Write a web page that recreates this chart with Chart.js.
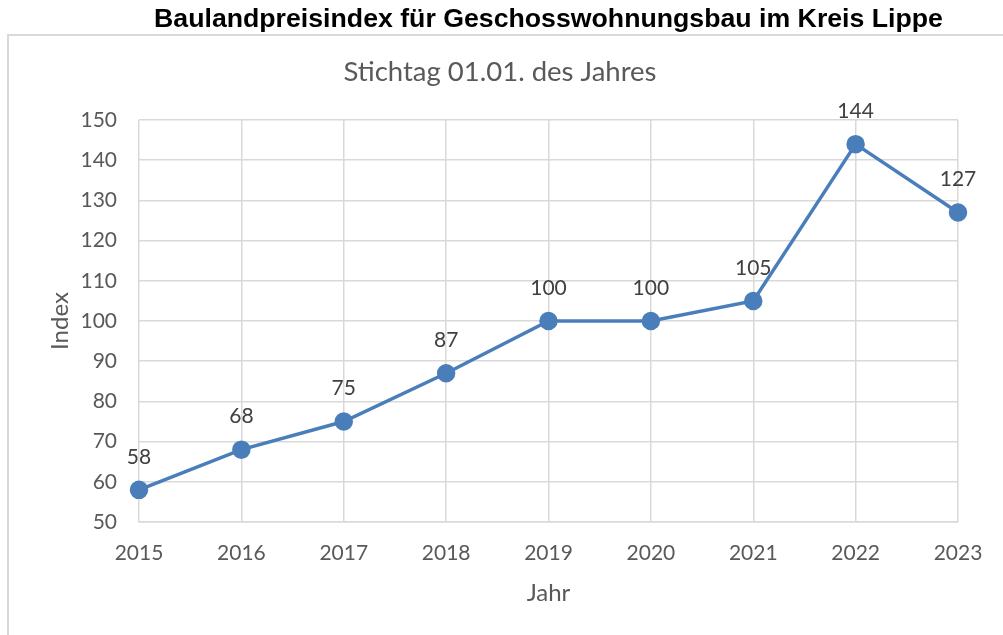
<!DOCTYPE html>
<html>
<head>
<meta charset="utf-8">
<script src="https://cdn.jsdelivr.net/npm/chart.js@4/dist/chart.umd.min.js"></script>
<style>
  html, body { margin: 0; padding: 0; background: #fff; overflow: hidden; }
  #frame { position: absolute; left: 7px; top: 34px; width: 1100px; height: 700px; border: 2px solid #d9d9d9; }
  #wrap { position: absolute; left: 0; top: 0; width: 1003px; height: 635px; }
</style>
</head>
<body>
<div id="frame"></div>
<div id="wrap"><canvas id="chart"></canvas></div>
<script>
'use strict';

const years = ['2015', '2016', '2017', '2018', '2019', '2020', '2021', '2022', '2023'];
const indexValues = [58, 68, 75, 87, 100, 100, 105, 144, 127];
const yTicks = { min: 50, max: 150, step: 10 };

const FONT = 'Lato, "Open Sans", sans-serif';
const GREY = '#595959';

// Datenbeschriftung über den Punkten
const pointLabels = {
  id: 'pointLabels',
  afterDatasetsDraw(chart) {
    const ctx = chart.ctx;
    const meta = chart.getDatasetMeta(0);
    ctx.save();
    ctx.font = '21px ' + FONT;
    ctx.fillStyle = '#404040';
    ctx.textAlign = 'center';
    ctx.textBaseline = 'middle';
    meta.data.forEach(function(pt, i) {
      ctx.fillText(String(indexValues[i]), pt.x, pt.y - 33);
    });
    ctx.restore();
  }
};

new Chart(document.getElementById('chart'), {
  type: 'line',
  data: {
    labels: years,
    datasets: [{
      label: 'Index',
      data: indexValues,
      borderColor: '#4a7ebb',
      backgroundColor: '#4a7ebb',
      borderWidth: 3.5,
      pointRadius: 7.5,
      pointHoverRadius: 7.5,
      tension: 0
    }]
  },
  options: {
    responsive: true,
    maintainAspectRatio: false,
    animation: false,
    layout: { padding: { left: 42, right: 45, top: 0, bottom: 23 } },
    plugins: {
      legend: { display: false },
      tooltip: { enabled: false },
      title: {
        display: true,
        fullSize: false,
        text: 'Baulandpreisindex für Geschosswohnungsbau im Kreis Lippe',
        color: '#000',
        font: { family: '"Liberation Sans", Arial, sans-serif', size: 26.7, weight: 'bold' },
        padding: { top: 4, bottom: 10 }
      },
      subtitle: {
        display: true,
        text: 'Stichtag 01.01. des Jahres',
        color: GREY,
        font: { family: FONT, size: 27.5 },
        padding: { top: 10, bottom: 31 }
      }
    },
    scales: {
      x: {
        offset: false,
        grid: { color: '#d9d9d9', lineWidth: 1.5, drawTicks: false },
        border: { color: '#d9d9d9', width: 1.5 },
        ticks: { color: GREY, font: { family: FONT, size: 21 }, padding: 19, maxRotation: 0 },
        title: { display: true, text: 'Jahr', color: GREY, font: { family: FONT, size: 24 }, padding: { top: 14 } },
        afterFit: function(s) { s.height = 90; }
      },
      y: {
        min: yTicks.min,
        max: yTicks.max,
        grid: { color: '#d9d9d9', lineWidth: 1.5, drawTicks: false },
        border: { display: false },
        ticks: { stepSize: yTicks.step, color: GREY, font: { family: FONT, size: 21 }, padding: 22 },
        title: { display: true, text: 'Index', color: GREY, font: { family: FONT, size: 24 }, padding: { bottom: 14 } },
        afterFit: function(s) { s.width = 97; }
      }
    }
  },
  plugins: [pointLabels]
});
</script>
</body>
</html>
